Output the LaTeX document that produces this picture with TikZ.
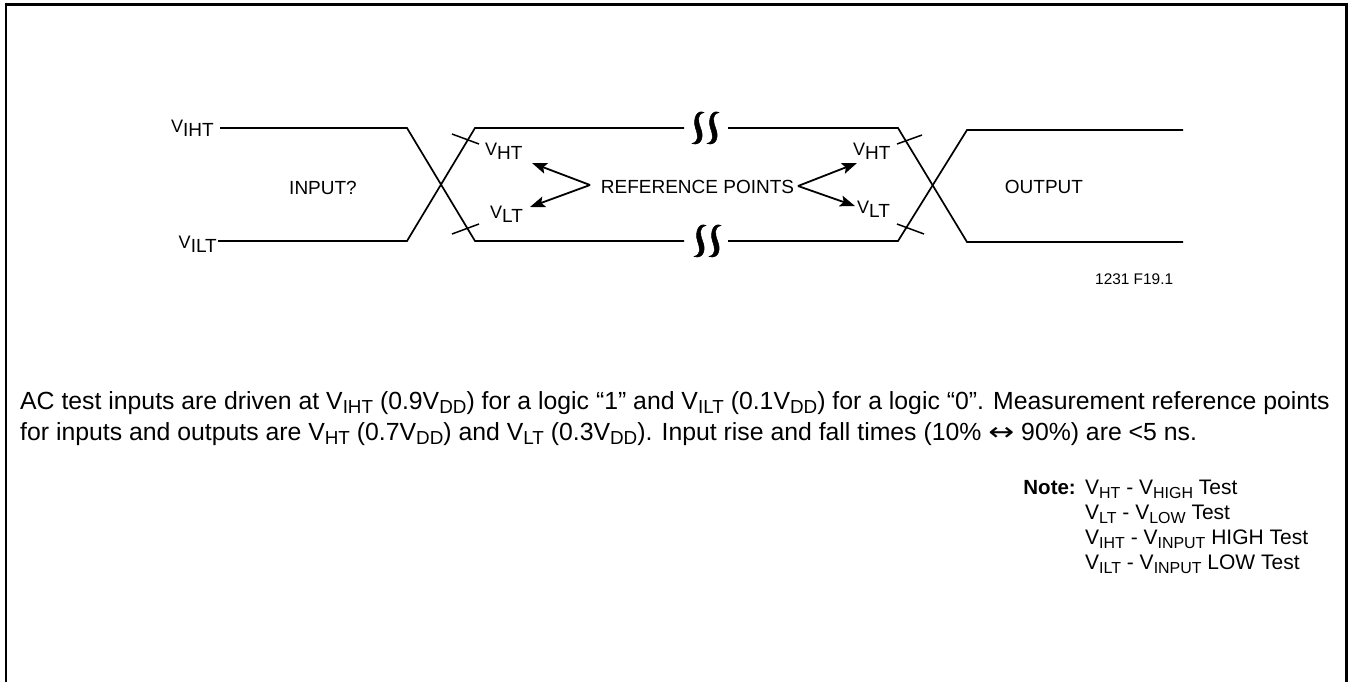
\documentclass[tikz,border=0pt]{standalone}
\usepackage{graphicx}
\usepackage{fontspec}
\setmainfont{Liberation Sans}
\newfontfamily\symf{DejaVu Sans}
\usetikzlibrary{arrows.meta}
\newcommand{\lo}[1]{\raisebox{-0.2em}{\scalebox{0.76}{#1}}}
\newcommand{\dv}[1]{\scalebox{0.95}{V}\raisebox{-4.5pt}{#1}}
\tikzset{
  wave/.style={line width=1.7pt, line join=miter},
  tick/.style={line width=1.5pt},
  brk/.style={line width=0.4pt},
  refarrow/.style={line width=1.8pt, -{Stealth[length=15pt,width=11pt,inset=3pt]}},
  lbl/.style={inner sep=0pt, font=\fontsize{19}{22}\selectfont},
  para/.style={inner sep=0pt, anchor=base west, font=\fontsize{24.8}{29}\selectfont},
  notetxt/.style={inner sep=0pt, anchor=base west, font=\fontsize{21}{25}\selectfont},
  frame/.style={line width=2.6pt}
}
\begin{document}
\begin{tikzpicture}[x=1pt,y=-1pt]
\useasboundingbox (0,0) rectangle (1350,681);
% frame (open at bottom)
\draw[frame] (6,700) -- (6,4.5) -- (1346.5,4.5) -- (1346.5,700);

% waveforms
\draw[wave] (220,128) -- (407,128) -- (475,241) -- (684,241);
\draw[wave] (218,241) -- (407,241) -- (475,128) -- (684,128);
\draw[wave] (728,128) -- (898,128) -- (967,242) -- (1183,242);
\draw[wave] (728,241) -- (898,241) -- (967,130) -- (1183,130);

% break marks
\foreach \cx/\cy in {698/128, 713/128, 700/241, 715/241}{
  \filldraw[brk] (\cx+6,\cy-15.5) .. controls (\cx-1,\cy-19) and (\cx-5.5,\cy-9) .. (\cx-2.6,\cy)
     .. controls (\cx+0.3,\cy+8) and (\cx+1,\cy+13.5) .. (\cx-6,\cy+15.5)
     .. controls (\cx+3,\cy+18.5) and (\cx+6.5,\cy+9) .. (\cx+2.6,\cy)
     .. controls (\cx-0.3,\cy-8) and (\cx-1,\cy-13.5) .. cycle;
}

% ticks
\draw[tick] (452,134) -- (479,144);
\draw[tick] (452,234) -- (479,224);
\draw[tick] (897,144) -- (922,135);
\draw[tick] (897,224) -- (924,234);

% labels
\node[lbl, anchor=base east] (vih) at (214,132) {\dv{IHT}};
\node[lbl, anchor=base east] (vil) at (217,248) {\dv{ILT}};
\node[lbl, anchor=base west] (vhtl) at (485,155) {\dv{HT}};
\node[lbl, anchor=base west] (vltl) at (490,218) {\dv{LT}};
\node[lbl, anchor=base west] (vhtr) at (853,155) {\dv{HT}};
\node[lbl, anchor=base west] (vltr) at (857,213) {\dv{LT}};
\node[lbl, anchor=base] (inp) at (323,194) {INPUT?};
\node[lbl, anchor=base] (ref) at (697.5,193) {REFERENCE POINTS};
\node[lbl, anchor=base] (outp) at (1044,193) {OUTPUT};
\node[inner sep=0pt, anchor=base west, font=\fontsize{15.4}{18}\selectfont] (fig) at (1095,284) {1231 F19.1};

% reference arrows
\coordinate (tl) at (590,185);
\coordinate (tr) at (798,186);
\coordinate (hl1) at (532,163);
\coordinate (hl2) at (530,207);
\coordinate (hr1) at (857,163);
\coordinate (hr2) at (855,206);
\draw[refarrow] (tl) -- (hl1);
\draw[refarrow] (tl) -- (hl2);
\draw[refarrow] (tr) -- (hr1);
\draw[refarrow] (tr) -- (hr2);

% paragraph
\node[para] (p1) at (20,409) {AC test inputs are driven at V\lo{IHT} (0.9V\lo{DD}) for a logic “1” and V\lo{ILT} (0.1V\lo{DD}) for a logic “0”. Measurement reference points};
\node[para] (p2) at (20,440) {for inputs and outputs are V\lo{HT} (0.7V\lo{DD}) and V\lo{LT} (0.3V\lo{DD}). Input rise and fall times (10\% {\symf\scalebox{1.25}[1]{↔}} 90\%) are <5 ns.};

% note
\node[notetxt, anchor=base east, font=\fontsize{20.5}{25}\selectfont\bfseries] (nt) at (1076,494) {Note:};
\node[notetxt] (n1) at (1085,494) {V\lo{HT} - V\lo{HIGH} Test};
\node[notetxt] (n2) at (1085,519) {V\lo{LT} - V\lo{LOW} Test};
\node[notetxt] (n3) at (1085,544) {V\lo{IHT} - V\lo{INPUT} HIGH Test};
\node[notetxt] (n4) at (1085,569) {V\lo{ILT} - V\lo{INPUT} LOW Test};
\end{tikzpicture}
\end{document}
